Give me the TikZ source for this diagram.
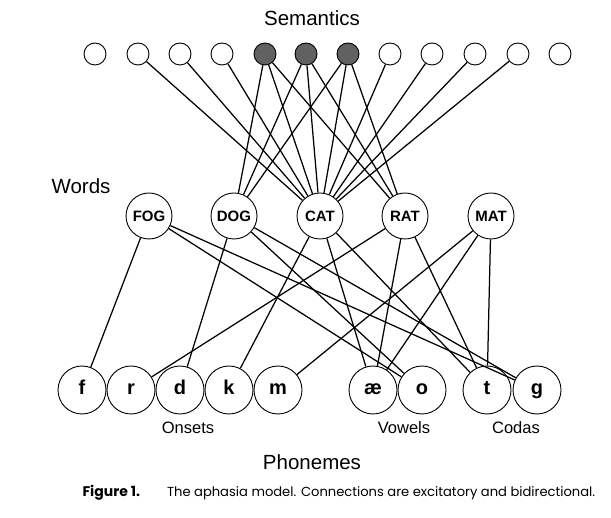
\documentclass[tikz,border=0pt]{standalone}
\usepackage{fontspec}
\setmainfont{Liberation Sans}
\newfontfamily\capfont{Poppins}
\usetikzlibrary{positioning}
\tikzset{sem/.style={inner sep=0pt, minimum size=22pt, circle, draw=black, line width=0.9pt, fill=white},
    semon/.style={sem, fill=black!62},
    wrd/.style={inner sep=0pt, minimum size=46pt, circle, draw=black, line width=0.9pt,
        font=\fontsize{15}{17}\selectfont\bfseries},
    phon/.style={inner sep=0pt, minimum size=48pt, circle, draw=black, line width=0.9pt,
        text height=10pt, text depth=0pt, font=\fontsize{20}{23}\selectfont\bfseries},
    lyr/.style={font=\fontsize{20.5}{24}\selectfont},
    grp/.style={font=\fontsize{16.5}{19}\selectfont},
    conn/.style={line width=1.25pt}}

\begin{document}
\begin{tikzpicture}[x=1pt, y=-1pt]
    \useasboundingbox (0,0) rectangle (611,518);
    % semantic features
    \node[sem] (s1) at (95, 54) {};
    \node[sem] (s2) at (138, 54) {};
    \node[sem] (s3) at (180, 54) {};
    \node[sem] (s4) at (222, 54) {};
    \node[semon] (s5) at (265, 54) {};
    \node[semon] (s6) at (306, 54) {};
    \node[semon] (s7) at (348, 54) {};
    \node[sem] (s8) at (390, 54) {};
    \node[sem] (s9) at (432, 54) {};
    \node[sem] (s10) at (475, 54) {};
    \node[sem] (s11) at (518, 54) {};
    \node[sem] (s12) at (560, 54) {};
    % words
    \node[wrd] (fog) at (149, 216) {FOG};
    \node[wrd] (dog) at (234, 216) {DOG};
    \node[wrd] (cat) at (320, 216) {CAT};
    \node[wrd] (rat) at (405, 216) {RAT};
    \node[wrd] (mat) at (491, 216) {MAT};
    % phonemes
    \node[phon] (f) at (82, 390) {f};
    \node[phon] (r) at (131, 390) {r};
    \node[phon] (d) at (180, 390) {d};
    \node[phon] (k) at (229, 390) {k};
    \node[phon] (m) at (278, 390) {m};
    \node[phon] (ae) at (373, 390) {æ};
    \node[phon] (o) at (422, 390) {o};
    \node[phon] (t) at (487, 390) {t};
    \node[phon] (g) at (537, 390) {g};
    \draw[conn]
    (cat) edge (s2) edge (s3) edge (s4) edge (s5) edge (s6) edge (s7)
          edge (s8) edge (s9) edge (s10) edge (s11)
    (dog) edge (s5) edge (s6) edge (s7)
    (rat) edge (s5) edge (s6) edge (s7);
    \draw[conn]
    (fog) edge (f) edge (o) edge (g)
    (dog) edge (d) edge (o) edge (g)
    (cat) edge (k) edge (ae) edge (t)
    (rat) edge (r) edge (ae) edge (t)
    (mat) edge (m) edge (ae) edge (t);
    % layer names
    \node[lyr] (semlbl) at (312, 18) {Semantics};
    \node[lyr] (wrdlbl) at (81, 186) {Words};
    \node[lyr] (phnlbl) at (312, 462) {Phonemes};
    \node[grp] (onslbl) at (188, 428) {Onsets};
    \node[grp] (vowlbl) at (404, 428) {Vowels};
    \node[grp] (codlbl) at (516, 428) {Codas};
    \node[anchor=west, font=\capfont\fontsize{13.1}{16}\selectfont] (caption) at (79, 493)
        {{\fontsize{14}{16}\selectfont\bfseries Figure 1.}\hspace{27pt}The aphasia model. Connections are excitatory and bidirectional.};
\end{tikzpicture}
\end{document}
